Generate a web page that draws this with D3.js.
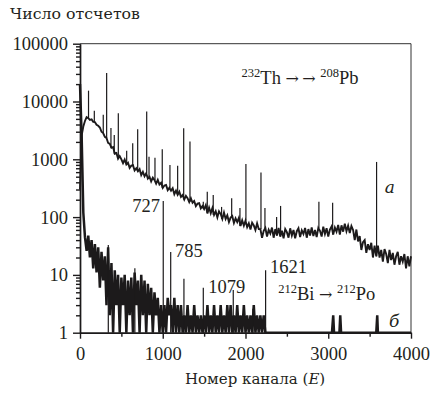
<!DOCTYPE html>
<html>
<head>
<meta charset="utf-8">
<script src="https://cdn.jsdelivr.net/npm/d3@7"></script>
<style>
body { margin: 0; background: #fff; }
</style>
</head>
<body>
<svg width="433" height="394"></svg>
<script>
// spectrum a (232Th chain), one value every 20 channels from channel 0
var aStep = 20;
var aCounts = [300, 2600, 3700, 4600, 5350, 5150, 4800, 4900, 4450, 4400,
  3950, 3800, 3550, 3000, 2850, 2450, 2350, 1920, 1850, 1580,
  1630, 1250, 1280, 1020, 1135, 1000, 855, 990, 815, 870,
  710, 777, 790, 640, 700, 620, 677, 531, 605, 508,
  572, 465, 500, 414, 480, 440, 378, 440, 366, 392,
  320, 352, 360, 293, 321, 287, 315, 249, 287, 243,
  275, 224, 241, 202, 233, 212, 182, 212, 177, 190,
  155, 171, 174, 142, 156, 138, 161, 116, 146, 117,
  144, 109, 126, 99, 126, 113, 93, 120, 93, 107,
  82, 98, 104, 79, 95, 82, 97, 70, 88, 71,
  87, 67, 78, 61, 80, 72, 60, 78, 62, 62,
  44, 58, 65, 46, 60, 52, 66, 44, 62, 48,
  65, 46, 58, 43, 62, 55, 44, 64, 48, 60,
  43, 57, 64, 45, 59, 51, 65, 44, 62, 48,
  66, 47, 60, 45, 65, 58, 46, 68, 51, 64,
  46, 61, 69, 50, 66, 56, 73, 50, 72, 56,
  77, 57, 71, 53, 70, 60, 40, 61, 38, 47,
  27, 37, 40, 24, 34, 27, 36, 20, 32, 21,
  32, 20, 27, 17, 28, 23, 16, 27, 18, 24,
  15, 21, 25, 15, 21, 17, 23, 13, 21, 14, 21];
// gamma lines on spectrum a: [channel, peak counts]
var aPeaks = [[103, 15400], [173, 6950], [281, 5870], [322, 31200], [374, 3480],
  [414, 2640], [463, 6290], [564, 1410], [637, 1900], [697, 3300],
  [806, 6700], [834, 1110], [906, 1060], [994, 1490], [1087, 800],
  [1180, 770], [1253, 3460], [1329, 2030], [1490, 185], [1538, 275],
  [1610, 240], [1711, 150], [1833, 212], [1933, 144], [2005, 830],
  [2187, 590], [2235, 144], [2376, 100], [2424, 156], [2887, 185],
  [3053, 178], [3584, 900]];

// spectrum b (212Bi -> 212Po coincidences), one value every 20 channels
var bStep = 20;
var bCounts = [20000, 2500, 120, 45, 26, 48, 20, 40, 13, 34,
  11, 30, 6, 25, 8, 21, 3, 30, 2, 16,
  1, 12, 3, 10, 1, 9, 3, 10, 1, 8,
  2, 9, 1, 11, 3, 8, 1, 10, 2, 8,
  1, 7, 2, 6, 1, 5, 2, 4, 1, 3,
  1, 3, 1, 4, 2, 3, 1, 4, 1, 3,
  1, 3, 1, 2, 1, 3, 1, 2, 1, 3,
  1, 2, 1, 2, 1, 2, 1, 3, 1, 2,
  1, 3, 1, 2, 1, 3, 1, 2, 1, 3,
  1, 3, 1, 2, 1, 3, 1, 2, 1, 3,
  1, 2, 1, 2, 1, 3, 1, 2, 1, 2,
  1, 2, 1, 1];
var bTail = [[2260, 1], [3045, 1], [3060, 2], [3070, 1], [3135, 1], [3145, 2],
  [3155, 1], [3580, 1], [3592, 2], [3600, 1], [4000, 1]];
var bPeaks = [[342, 33], [663, 13], [1006, 190], [1096, 25], [1256, 8.6],
  [1490, 6], [1852, 5.5], [2090, 2.6], [2243, 12]];

var xTicks = [0, 1000, 2000, 3000, 4000];
var xMinor = [500, 1500, 2500, 3500];
var yTicks = [1, 10, 100, 1000, 10000, 100000];

// line labels: [text, channel, counts, anchor]
var lineLabels = [["727", 966, 123, "end"], ["785", 1148, 20.4, "start"],
  ["1079", 1550, 4.9, "start"], ["1621", 2295, 10.8, "start"]];

// Liberation Serif here has no Cyrillic, so Cyrillic text uses DejaVu Serif
var serif = "'Liberation Serif', 'Times New Roman', serif";
var cyr = "'DejaVu Serif', serif";
var textInk = "#231f20";

var svg = d3.select("svg"),
    margin = {top: 43.7, right: 22, bottom: 61.3, left: 80},
    width = +svg.attr("width") - margin.left - margin.right,
    height = +svg.attr("height") - margin.top - margin.bottom,
    g = svg.append("g").attr("transform", "translate(" + margin.left + "," + margin.top + ")");

var x = d3.scaleLinear().domain([0, 4000]).range([0, width]);
var y = d3.scaleLog().domain([1, 100000]).range([height, 0]);
var ink = "#1c1a1b";

var yMinor = [];
yTicks.slice(0, -1).forEach(function(t) {
  for (var k = 2; k < 10; k++) yMinor.push(t * k);
});

// frame
g.append("line").attr("x1", 0).attr("x2", width).attr("y1", 0).attr("y2", 0)
    .attr("stroke", "#333").attr("stroke-width", 1);
g.append("line").attr("x1", width).attr("x2", width).attr("y1", 0).attr("y2", height)
    .attr("stroke", "#333").attr("stroke-width", 1);

// spectra
var line = d3.line()
    .x(function(d) { return x(d[0]); })
    .y(function(d) { return y(Math.max(1, d[1])); });

var aData = aCounts.map(function(c, i) { return [i * aStep, c]; });
var bData = bCounts.map(function(c, i) { return [i * bStep, c]; }).concat(bTail);

function baseAt(data, step, ch) {
  var i = Math.min(data.length - 1, Math.round(ch / step));
  return data[i][1];
}

g.append("path").datum(bData)
    .attr("fill", "none").attr("stroke", ink).attr("stroke-width", 2.5)
    .attr("d", line);
g.selectAll(".bpeak").data(bPeaks).enter().append("line")
    .attr("x1", function(d) { return x(d[0]); })
    .attr("x2", function(d) { return x(d[0]); })
    .attr("y1", y(1))
    .attr("y2", function(d) { return y(d[1]); })
    .attr("stroke", ink).attr("stroke-width", 1.2);

g.append("path").datum(aData)
    .attr("fill", "none").attr("stroke", ink).attr("stroke-width", 1.9)
    .attr("d", line);
g.selectAll(".apeak").data(aPeaks).enter().append("line")
    .attr("x1", function(d) { return x(d[0]); })
    .attr("x2", function(d) { return x(d[0]); })
    .attr("y1", function(d) { return y(baseAt(aData, aStep, d[0])); })
    .attr("y2", function(d) { return y(d[1]); })
    .attr("stroke", ink).attr("stroke-width", 1.2);

// axes
var fmt = function(d) { return String(d); };
g.append("g").attr("transform", "translate(0," + height + ")")
    .call(d3.axisBottom(x).tickValues(xMinor).tickSize(4).tickSizeOuter(0).tickFormat(""));
g.append("g").attr("transform", "translate(0," + height + ")")
    .call(d3.axisBottom(x).tickValues(xTicks).tickSize(6).tickPadding(8).tickSizeOuter(0).tickFormat(fmt));
g.append("g")
    .call(d3.axisLeft(y).tickValues(yMinor).tickSize(4).tickSizeOuter(0).tickFormat(""));
g.append("g")
    .call(d3.axisLeft(y).tickValues(yTicks).tickSize(7).tickPadding(5).tickSizeOuter(0).tickFormat(fmt));
g.selectAll(".domain, .tick line").attr("stroke", ink).attr("stroke-width", 1.4);
g.selectAll("g").attr("font-family", serif);
g.selectAll(".tick text").attr("font-family", serif)
    .attr("font-size", 18.5).attr("fill", textInk);

// labels
g.selectAll(".lbl").data(lineLabels).enter().append("text")
    .attr("x", function(d) { return x(d[1]); })
    .attr("y", function(d) { return y(d[2]); })
    .attr("text-anchor", function(d) { return d[3]; })
    .attr("font-family", serif).attr("font-size", 18.5).attr("fill", textInk)
    .text(function(d) { return d[0]; });

// parts: [text, kind]  kind: "sup" superscript, "arr" arrow, "" plain
function isotope(ch, cnt, parts) {
  var el = g.append("text").attr("x", x(ch)).attr("y", y(cnt))
      .attr("font-family", serif).attr("font-size", 18.5).attr("fill", textInk);
  var raised = false;
  parts.forEach(function(p) {
    var ts = el.append("tspan").text(p[0]);
    if (p[1] === "sup") {
      ts.attr("font-size", 12.5).attr("dy", raised ? 0 : -7);
      raised = true;
    } else {
      ts.attr("dy", raised ? 7 : 0);
      raised = false;
      if (p[1] === "arr") ts.attr("font-family", cyr).attr("font-size", 16);
    }
  });
  return el;
}
isotope(1953, 19800, [["232", "sup"], ["Th ", ""], ["\u2192\u2009\u2192", "arr"], [" ", ""], ["208", "sup"], ["Pb", ""]]);
isotope(2395, 3.7, [["212", "sup"], ["Bi ", ""], ["\u2192", "arr"], [" ", ""], ["212", "sup"], ["Po", ""]]);

g.append("text").attr("x", x(3684)).attr("y", y(262))
    .attr("font-family", cyr).attr("font-size", 17).attr("font-style", "italic")
    .attr("fill", textInk).text("а");
g.append("text").attr("x", x(3733)).attr("y", y(1.25))
    .attr("font-family", cyr).attr("font-size", 17).attr("font-style", "italic")
    .attr("fill", textInk).text("б");

svg.append("text").attr("x", 10).attr("y", 18.5)
    .attr("font-family", cyr).attr("font-size", 15.5).attr("fill", textInk)
    .attr("textLength", 130).attr("lengthAdjust", "spacingAndGlyphs")
    .text("Число отсчетов");
var xt = svg.append("text").attr("x", 185).attr("y", 384)
    .attr("font-family", cyr).attr("font-size", 15).attr("fill", textInk);
xt.append("tspan").text("Номер канала (");
xt.append("tspan").attr("font-style", "italic").text("E");
xt.append("tspan").text(")");
</script>
</body>
</html>
